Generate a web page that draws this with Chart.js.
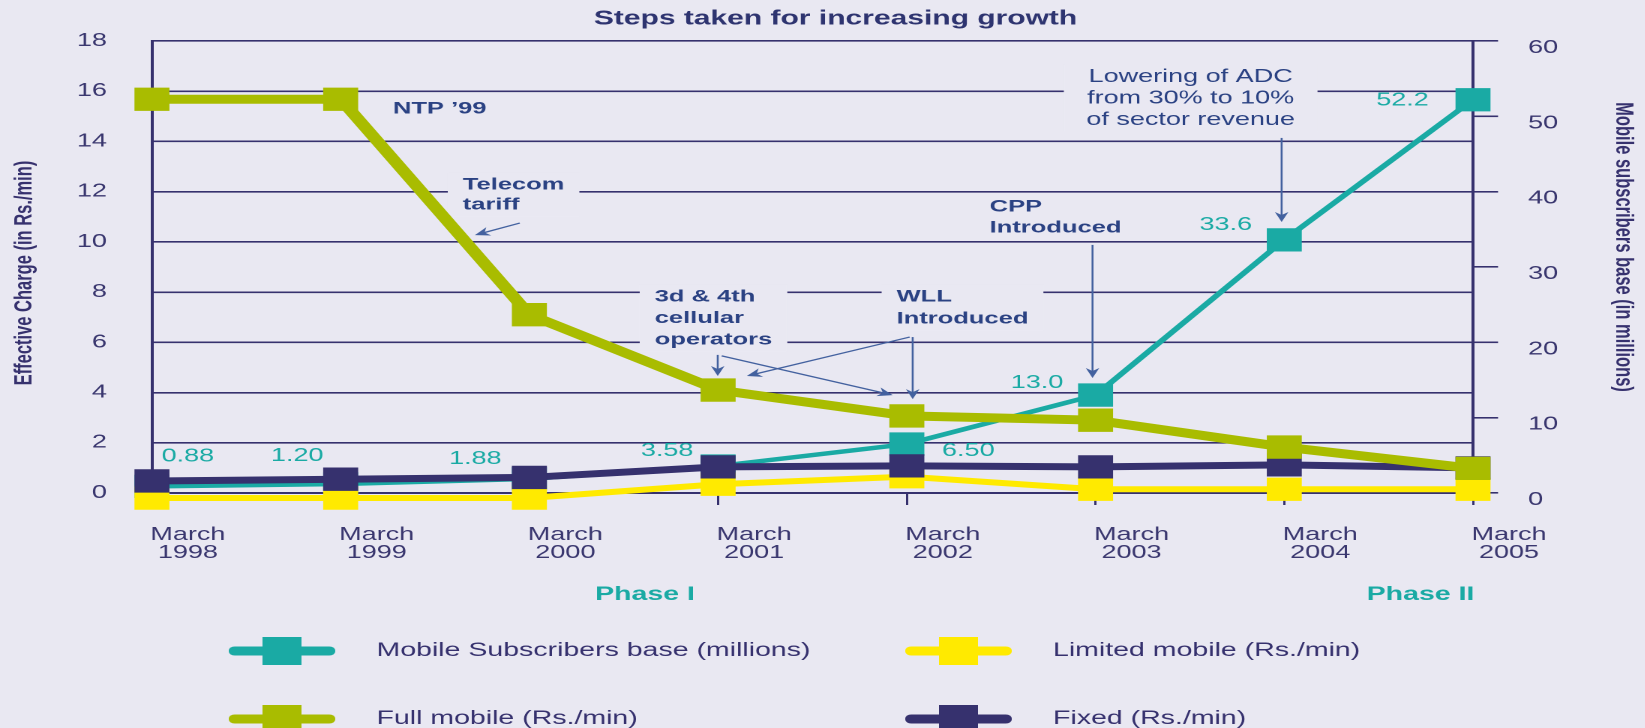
<!DOCTYPE html>
<html>
<head>
<meta charset="utf-8">
<title>Steps taken for increasing growth</title>
<script src="https://cdn.jsdelivr.net/npm/chart.js@4.4.1/dist/chart.umd.min.js"></script>
<style>
  html, body { margin: 0; padding: 0; background: #e9e8f2; overflow: hidden; }
  /* the original artwork is stretched sideways, so the chart is drawn narrow and widened */
  #wrap { width: 1097px; height: 728px; transform: scaleX(1.5); transform-origin: 0 0; }
</style>
</head>
<body>
<div id="wrap"><canvas id="chart"></canvas></div>
<script>
const categories = [
  ['March', '1998'], ['March', '1999'], ['March', '2000'], ['March', '2001'],
  ['March', '2002'], ['March', '2003'], ['March', '2004'], ['March', '2005']
];
const mobileSubscribers = [0.88, 1.20, 1.88, 3.58, 6.50, 13.0, 33.6, 52.2];
const subscriberLabels = ['0.88', '1.20', '1.88', '3.58', '6.50', '13.0', '33.6', '52.2'];
const limitedMobile = [-0.2, -0.2, -0.2, 0.35, 0.65, 0.15, 0.15, 0.15];
const fullMobile = [15.68, 15.68, 7.1, 4.1, 3.07, 2.9, 1.83, 0.98];
const fixedLine = [0.48, 0.55, 0.62, 1.04, 1.08, 1.04, 1.12, 1.0];
const chargeTicks = [0, 2, 4, 6, 8, 10, 12, 14, 16, 18];
const subscriberTicks = [0, 10, 20, 30, 40, 50, 60];

const NAVY = '#36316e';
const TEAL = '#1aaaa4';
const OLIVE = '#a9bc00';
const YELLOW = '#ffea00';
const NOTE = '#2b4283';
const ARROW = '#43619f';
const BG = '#e9e8f2';

// value label offsets (px) from each subscriber point
const labelDx = [24, -29, -36, -34, 41, -39, -39, -47];
const labelDy = [-30, -28, -20, -15, 7, -12, -15, 1];

// notes: x in category index, y in Rs./min
const notes = [
  { lines: ['NTP \u201999'], x: 1.277, y: 15.29, bold: true },
  { lines: ['Telecom', 'tariff'], x: 1.647, y: 12.27, lh: 20, bold: true, gap: true },
  { lines: ['3d & 4th', 'cellular', 'operators'], x: 2.664, y: 7.81, lh: 21.5, bold: true, gap: true },
  { lines: ['WLL', 'Introduced'], x: 3.946, y: 7.81, lh: 22, bold: true, gap: true },
  { lines: ['CPP', 'Introduced'], x: 4.439, y: 11.39, lh: 21, bold: true },
  { lines: ['Lowering of ADC', 'from 30% to 10%', 'of sector revenue'], x: 5.504, y: 16.57, lh: 21.5, center: true, gap: true, pad: 15 }
];
const arrows = [
  [1.949, 10.75, 1.711, 10.27],
  [2.998, 5.50, 2.998, 4.66],
  [3.019, 5.46, 3.925, 3.90],
  [4.031, 6.21, 4.031, 3.74],
  [4.015, 6.21, 3.152, 4.66],
  [4.984, 9.88, 4.984, 4.58],
  [5.986, 14.14, 5.986, 10.79]
];

const legendSlots = [
  { dataset: 0, x: 188, y: 651 },
  { dataset: 1, x: 639, y: 651 },
  { dataset: 2, x: 188, y: 719 },
  { dataset: 3, x: 639, y: 719 }
];

function noteFont(n) {
  return n.center ? '18px "Liberation Sans"' : 'bold 17px "Liberation Sans"';
}

const notesPlugin = {
  id: 'notes',
  beforeDatasetsDraw(chart) {
    // clear the grid behind the notes
    const { ctx, scales } = chart;
    ctx.save();
    notes.filter(n => n.gap).forEach(n => {
      ctx.font = noteFont(n);
      const w = Math.max(...n.lines.map(t => ctx.measureText(t).width));
      const px = scales.x.getPixelForValue(n.x);
      const py = scales.y.getPixelForValue(n.y);
      const pad = n.pad || 10;
      const left = n.center ? px - w / 2 : px;
      const lh = n.lh || 20;
      ctx.fillStyle = BG;
      ctx.fillRect(left - pad, py - 12, w + pad * 2, lh * (n.lines.length - 1) + 24);
    });
    ctx.restore();
  },
  afterDatasetsDraw(chart) {
    const { ctx, scales } = chart;
    ctx.save();
    ctx.textBaseline = 'middle';
    notes.forEach(n => {
      ctx.font = noteFont(n);
      ctx.fillStyle = NOTE;
      ctx.textAlign = n.center ? 'center' : 'left';
      const px = scales.x.getPixelForValue(n.x);
      const py = scales.y.getPixelForValue(n.y);
      n.lines.forEach((t, i) => ctx.fillText(t, px, py + i * (n.lh || 20)));
    });

    ctx.strokeStyle = ARROW;
    ctx.fillStyle = ARROW;
    ctx.lineWidth = 1.3;
    arrows.forEach(a => {
      const x1 = scales.x.getPixelForValue(a[0]), y1 = scales.y.getPixelForValue(a[1]);
      const x2 = scales.x.getPixelForValue(a[2]), y2 = scales.y.getPixelForValue(a[3]);
      const ang = Math.atan2(y2 - y1, x2 - x1);
      ctx.beginPath();
      ctx.moveTo(x1, y1);
      ctx.lineTo(x2 - Math.cos(ang) * 6, y2 - Math.sin(ang) * 6);
      ctx.stroke();
      ctx.beginPath();
      ctx.moveTo(x2, y2);
      ctx.lineTo(x2 - Math.cos(ang) * 10 + Math.sin(ang) * 4.5, y2 - Math.sin(ang) * 10 - Math.cos(ang) * 4.5);
      ctx.lineTo(x2 - Math.cos(ang) * 7, y2 - Math.sin(ang) * 7);
      ctx.lineTo(x2 - Math.cos(ang) * 10 - Math.sin(ang) * 4.5, y2 - Math.sin(ang) * 10 + Math.cos(ang) * 4.5);
      ctx.closePath();
      ctx.fill();
    });

    // subscriber value labels
    const meta = chart.getDatasetMeta(0);
    ctx.font = '18px "Liberation Sans"';
    ctx.fillStyle = TEAL;
    ctx.textAlign = 'center';
    meta.data.forEach((pt, i) => {
      ctx.fillText(subscriberLabels[i], pt.x + labelDx[i], pt.y + labelDy[i]);
    });
    ctx.restore();
  },
  afterDraw(chart) {
    const ctx = chart.ctx;
    ctx.save();
    ctx.textBaseline = 'middle';

    ctx.font = 'bold 20px "Liberation Sans"';
    ctx.fillStyle = '#2e3470';
    ctx.textAlign = 'center';
    ctx.fillText('Steps taken for increasing growth', 557, 19);

    ctx.font = 'bold 19px "Liberation Sans"';
    ctx.fillStyle = TEAL;
    ctx.fillText('Phase I', 430, 595);
    ctx.fillText('Phase II', 947, 595);

    ctx.fillStyle = NAVY;
    ctx.font = 'bold 16.5px "Liberation Sans"';
    ctx.save();
    ctx.translate(16.5, 273);
    ctx.rotate(-Math.PI / 2);
    ctx.fillText('Effective Charge (in Rs./min)', 0, 0);
    ctx.restore();
    ctx.save();
    ctx.translate(1082, 247);
    ctx.rotate(Math.PI / 2);
    ctx.fillText('Mobile subscribers base (in millions)', 0, 0);
    ctx.restore();

    // legend in a 2 x 2 grid
    legendSlots.forEach(s => {
      const ds = chart.data.datasets[s.dataset];
      ctx.fillStyle = ds.borderColor;
      ctx.beginPath();
      ctx.roundRect(s.x - 35.5, s.y - 4.5, 71, 9, 4);
      ctx.fill();
      ctx.fillRect(s.x - 13, s.y - 14, 26, 28);
      ctx.fillStyle = NAVY;
      ctx.font = '19px "Liberation Sans"';
      ctx.textAlign = 'left';
      ctx.fillText(ds.label, s.x + 63, s.y);
    });
    ctx.restore();
  }
};

function series(label, data, color, width, axis, order) {
  return {
    label: label,
    data: data,
    borderColor: color,
    backgroundColor: color,
    borderWidth: width,
    pointStyle: 'rect',
    pointRadius: 16.5,
    pointHoverRadius: 16.5,
    pointBorderWidth: 0,
    pointBackgroundColor: color,
    tension: 0,
    clip: false,
    yAxisID: axis,
    order: order
  };
}

const ctx = document.getElementById('chart');
new Chart(ctx, {
  type: 'line',
  data: {
    labels: categories,
    datasets: [
      series('Mobile Subscribers base (millions)', mobileSubscribers, TEAL, 4.5, 'y1', 4),
      series('Limited mobile (Rs./min)', limitedMobile, YELLOW, 6, 'y', 3),
      series('Full mobile (Rs./min)', fullMobile, OLIVE, 9, 'y', 1),
      series('Fixed (Rs./min)', fixedLine, NAVY, 7, 'y', 2)
    ]
  },
  options: {
    responsive: true,
    maintainAspectRatio: false,
    animation: false,
    devicePixelRatio: 2,
    layout: { padding: { top: 41, left: 0, right: 0, bottom: 0 } },
    plugins: {
      legend: { display: false },
      title: { display: false },
      tooltip: { enabled: false }
    },
    scales: {
      x: {
        offset: false,
        afterFit: s => { s.height = 235; },
        grid: { drawOnChartArea: false, drawTicks: true, tickLength: 12, color: NAVY, lineWidth: 1.5 },
        border: { display: true, color: NAVY, width: 2 },
        ticks: {
          color: '#3a376f',
          font: { family: 'Liberation Sans', size: 18, lineHeight: 1.0 },
          padding: 21,
          labelOffset: 24,
          maxRotation: 0,
          autoSkip: false
        }
      },
      y: {
        position: 'left',
        min: 0,
        max: 18,
        afterFit: s => { s.width = 101.3; },
        afterBuildTicks: s => { s.ticks = chargeTicks.map(v => ({ value: v })); },
        grid: { color: NAVY, lineWidth: 1.6, drawTicks: false },
        border: { display: true, color: NAVY, width: 2 },
        ticks: { color: '#3a376f', font: { family: 'Liberation Sans', size: 18 }, padding: 30 }
      },
      y1: {
        position: 'right',
        min: 0,
        max: 60,
        afterFit: s => { s.width = 115; },
        afterBuildTicks: s => { s.ticks = subscriberTicks.map(v => ({ value: v })); },
        grid: { drawOnChartArea: false, drawTicks: true, tickLength: 16.7, color: NAVY, lineWidth: 1.6 },
        border: { display: true, color: NAVY, width: 2 },
        ticks: { color: '#3a376f', font: { family: 'Liberation Sans', size: 18 }, padding: 20, labelOffset: 7 }
      }
    }
  },
  plugins: [notesPlugin]
});
</script>
</body>
</html>
